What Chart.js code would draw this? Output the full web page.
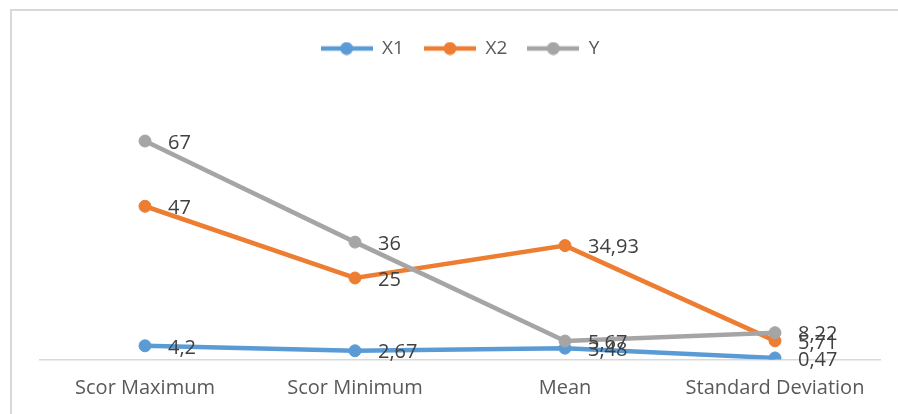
<!DOCTYPE html>
<html>
<head>
<meta charset="utf-8">
<script src="https://cdn.jsdelivr.net/npm/chart.js@4/dist/chart.umd.min.js"></script>
<style>
  html, body { margin: 0; padding: 0; background: #ffffff; }
  body { width: 898px; height: 414px; position: relative; overflow: hidden; }
  #frame { position: absolute; left: 10px; top: 9px; width: 900px; height: 420px; border: 2px solid #d9d9d9; box-sizing: border-box; }
  #wrap { position: absolute; left: 0; top: 0; width: 898px; height: 414px; }
</style>
</head>
<body>
<div id="frame"></div>
<div id="wrap"><canvas id="chart" width="898" height="414"></canvas></div>
<script>
// Statistik deskriptif
const categories = ['Scor Maximum', 'Scor Minimum', 'Mean', 'Standard Deviation'];
const seriesNames = ['X1', 'X2', 'Y'];
const valuesX1 = [4.2, 2.67, 3.48, 0.47];
const valuesX2 = [47, 25, 34.93, 5.71];
const valuesY = [67, 36, 5.67, 8.22];
const seriesColors = ['#5B9BD5', '#ED7D31', '#A5A5A5'];

const fmt = v => String(v).replace('.', ',');

// Legend swatch: short line with a dot in the middle
function swatch(color) {
  const c = document.createElement('canvas');
  c.width = 52; c.height = 14;
  const g = c.getContext('2d');
  g.strokeStyle = color; g.lineWidth = 4.5;
  g.beginPath(); g.moveTo(0, 7); g.lineTo(52, 7); g.stroke();
  g.fillStyle = color;
  g.beginPath(); g.arc(26, 7, 6.5, 0, Math.PI * 2); g.fill();
  return c;
}

// Value labels to the right of each point
const valueLabels = {
  id: 'valueLabels',
  afterDatasetsDraw(chart) {
    const ctx = chart.ctx;
    ctx.save();
    ctx.font = '20px "Open Sans"';
    ctx.fillStyle = '#404040';
    ctx.textAlign = 'left';
    ctx.textBaseline = 'middle';
    chart.data.datasets.forEach((ds, i) => {
      const meta = chart.getDatasetMeta(i);
      meta.data.forEach((pt, j) => {
        ctx.fillText(fmt(ds.data[j]), pt.x + 23, pt.y + 2);
      });
    });
    ctx.restore();
  }
};

const allSeries = [valuesX1, valuesX2, valuesY];
const datasets = allSeries.map((vals, i) => ({
  label: seriesNames[i],
  data: vals,
  borderColor: seriesColors[i],
  backgroundColor: seriesColors[i],
  pointBackgroundColor: seriesColors[i],
  pointBorderColor: seriesColors[i],
  borderWidth: 4.5,
  pointRadius: 6,
  pointBorderWidth: 1,
  pointHoverRadius: 6,
  tension: 0,
  order: 2 - i
}));

new Chart(document.getElementById('chart'), {
  type: 'line',
  data: { labels: categories, datasets },
  plugins: [valueLabels],
  options: {
    responsive: false,
    animation: false,
    events: [],
    layout: { padding: { left: 40, right: 18, top: 19, bottom: -3.5 } },
    plugins: {
      tooltip: { enabled: false },
      legend: {
        position: 'top',
        labels: {
          usePointStyle: true,
          pointStyleWidth: 52,
          padding: 20,
          color: '#595959',
          font: { family: '"Open Sans"', size: 19 },
          generateLabels(chart) {
            return chart.data.datasets.map((ds, i) => ({
              text: ds.label,
              pointStyle: swatch(seriesColors[i]),
              fillStyle: seriesColors[i],
              strokeStyle: 'rgba(0,0,0,0)',
              lineWidth: 0,
              fontColor: '#595959',
              hidden: false,
              datasetIndex: i
            }));
          }
        }
      }
    },
    scales: {
      x: {
        offset: true,
        grid: { display: false, drawTicks: false },
        border: { display: true, color: '#d9d9d9', width: 1.5 },
        ticks: { color: '#595959', font: { family: '"Open Sans"', size: 20 }, padding: 17, maxRotation: 0 }
      },
      y: {
        display: false,
        min: 0,
        max: 89.4
      }
    }
  }
});
</script>
</body>
</html>
